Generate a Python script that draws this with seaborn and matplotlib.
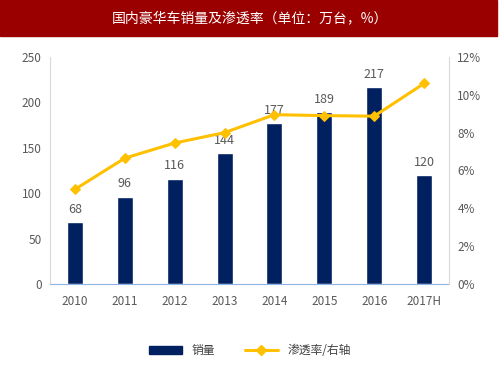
import matplotlib
matplotlib.use('agg')
import matplotlib.pyplot as plt
from matplotlib.patches import Rectangle
from matplotlib.lines import Line2D
from matplotlib.patches import Patch
import pandas as pd
import seaborn as sns

years = ["2010", "2011", "2012", "2013", "2014", "2015", "2016", "2017H"]
sales = [68, 96, 116, 144, 177, 189, 217, 120]
penetration = [5.0, 6.65, 7.45, 8.0, 8.95, 8.9, 8.87, 10.6]

sns.set_style("white")
plt.rcParams['font.family'] = ['Noto Sans CJK SC', 'DejaVu Sans']

df = pd.DataFrame({"year": years, "sales": sales, "rate": penetration})

bar_color = "#002060"
line_color = "#FFC000"
tick_color = "#595959"

fig = plt.figure(figsize=(5, 3.75), dpi=100)
ax = fig.add_axes([0.1, 0.243, 0.798, 0.605])

sns.barplot(data=df, x="year", y="sales", color=bar_color, width=0.32,
            saturation=1, ax=ax)
ax.set_ylim(0, 250)
ax.set_yticks(range(0, 251, 50))
for i, v in enumerate(sales):
    ax.text(i, v + 7, str(v), ha="center", va="bottom", fontsize=9, color=tick_color)

ax2 = ax.twinx()
sns.lineplot(data=df, x="year", y="rate", color=line_color, linewidth=2.2,
             marker="D", markersize=5, markeredgecolor=line_color, sort=False, ax=ax2)
ax2.set_ylim(0, 12)
ax2.set_yticks(range(0, 13, 2))
ax2.set_yticklabels([f"{t}%" for t in range(0, 13, 2)])
ax.set_xlim(-0.5, 7.5)

for a in (ax, ax2):
    a.set_xlabel("")
    a.set_ylabel("")
    a.tick_params(labelsize=8.5, colors=tick_color, length=0)
    for s in a.spines.values():
        s.set_visible(False)

ax.spines["left"].set_visible(True)
ax.spines["left"].set_color("#D9D9D9")
ax.spines["bottom"].set_visible(True)
ax.spines["bottom"].set_color("#8EB4E3")
ax2.spines["right"].set_visible(True)
ax2.spines["right"].set_color("#D9D9D9")
ax.tick_params(axis="x", pad=8)
ax2.tick_params(axis="y", pad=6)
ax.tick_params(axis="y", pad=6)
# small separators between categories on the category axis
ax.set_xticks([i - 0.5 for i in range(len(years) + 1)], minor=True)
ax.tick_params(axis="x", which="minor", direction="out", length=4, color="#8EB4E3")

# title bar
fig.patches.append(Rectangle((0, 0.904), 0.994, 0.096, transform=fig.transFigure,
                             color="#9B0000", zorder=0))
fig.text(0.5, 0.952, "国内豪华车销量及渗透率（单位：万台，%）", ha="center", va="center",
         color="white", fontsize=10)

handles = [Patch(color=bar_color, label="销量"),
           Line2D([0], [0], color=line_color, lw=2.2, marker="D", markersize=5, label="渗透率/右轴")]
fig.legend(handles=handles, loc="center", bbox_to_anchor=(0.5, 0.065), ncol=2,
           frameon=False, fontsize=8.5, handlelength=2.8, columnspacing=2.5,
           labelcolor="#404040")

fig.savefig("out.png", dpi=100)
